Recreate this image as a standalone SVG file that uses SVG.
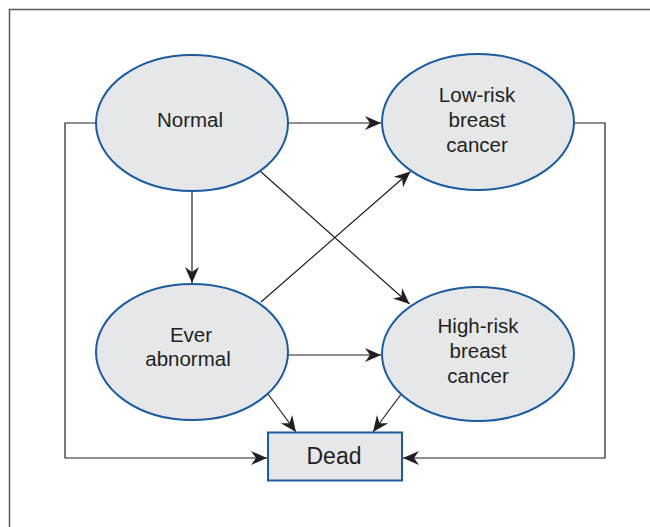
<svg xmlns="http://www.w3.org/2000/svg" width="650" height="527" viewBox="0 0 650 527">
<defs>
<style>
.node{fill:#e6e7e8;stroke:#1a5c9e;stroke-width:2}
.lbl{font-family:"Liberation Sans",Arial,sans-serif;font-size:20.5px;fill:#231f20;text-anchor:middle}
.edge{fill:none;stroke:#231f20;stroke-width:1.2;marker-end:url(#ah)}
.frame{fill:none;stroke:#5a5a5a;stroke-width:1.5}
</style>
<marker id="ah" viewBox="-17 -8 18 16" markerWidth="18" markerHeight="16" refX="0" refY="0" orient="auto" markerUnits="userSpaceOnUse">
<path d="M0,0 L-16,-7 L-11,0 L-16,7 Z" fill="#231f20"/>
</marker>
</defs>
<rect width="650" height="527" fill="#ffffff"/>
<path class="frame" d="M9.5,527 V9.5 H650"/>
<g id="connectors">
<path class="edge" d="M288,123 H381"/>
<path class="edge" d="M192,190 V283"/>
<path class="edge" d="M260,171 L409.5,304"/>
<path class="edge" d="M261,302 L410.5,171.5"/>
<path class="edge" d="M288,355 H381"/>
<path class="edge" d="M268,394 L296,432"/>
<path class="edge" d="M402,393 L373,432"/>
<path class="edge" d="M96,123 H65 V458 H267"/>
<path class="edge" d="M574,123 H605 V458 H403"/>
</g>
<g id="normal">
<ellipse class="node" cx="192" cy="123" rx="96" ry="68"/>
<text class="lbl" x="190" y="127">Normal</text>
</g>
<g id="low-risk">
<ellipse class="node" cx="478" cy="122" rx="96" ry="68"/>
<text class="lbl" x="477" y="102">Low-risk</text>
<text class="lbl" x="477" y="127">breast</text>
<text class="lbl" x="477" y="152">cancer</text>
</g>
<g id="ever-abnormal">
<ellipse class="node" cx="192" cy="352" rx="96" ry="68"/>
<text class="lbl" x="191" y="342">Ever</text>
<text class="lbl" x="188" y="366">abnormal</text>
</g>
<g id="high-risk">
<ellipse class="node" cx="478" cy="354" rx="96" ry="67"/>
<text class="lbl" x="478" y="333">High-risk</text>
<text class="lbl" x="478" y="358">breast</text>
<text class="lbl" x="478" y="383">cancer</text>
</g>
<g id="dead">
<rect class="node" x="268" y="432.5" width="134" height="48"/>
<text class="lbl" x="334" y="464" style="font-size:23px">Dead</text>
</g>
</svg>
